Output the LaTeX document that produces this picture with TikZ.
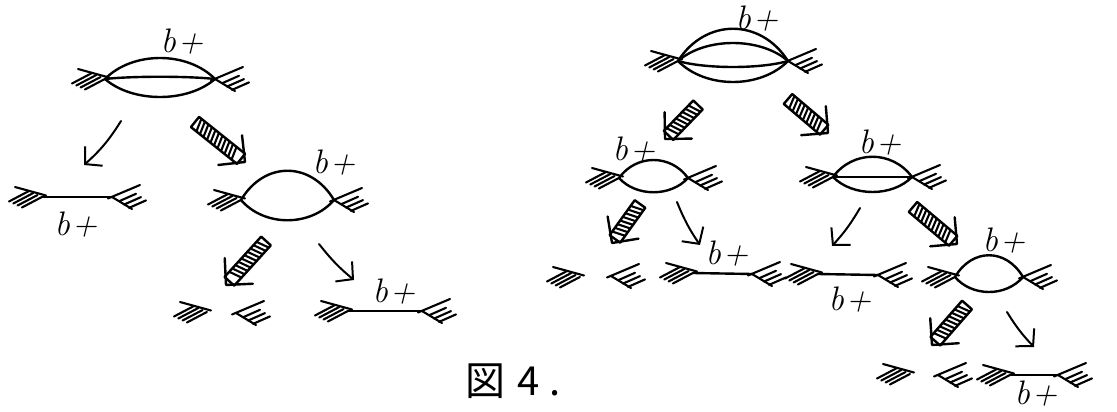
\documentclass[tikz,border=0pt]{standalone}
\usepackage{fontspec}
\newfontfamily\cjk{Noto Sans CJK JP}
\usetikzlibrary{arrows.meta,calc}
\tikzset{
  ink/.style={line width=2.4pt, line cap=round, line join=round},
  hs/.style={line width=2.1pt, line cap=round},
  thinarr/.style={line width=2pt, line cap=round, -{Straight Barb[length=12pt,width=26pt]}},
  lbl/.style={inner sep=0pt, font=\fontsize{34}{34}\selectfont\itshape},
}
% lens arc between two named vertices, #3 = control offset (px, negative = up)
\newcommand\lensarc[3]{\draw[ink] (#1) .. controls ($(#1)!0.25!(#2)+(0,#3)$) and ($(#1)!0.75!(#2)+(0,#3)$) .. (#2);}
% hatched external leg, left side (vertex at right)
\newcommand\lh[1]{\begin{scope}[shift={(#1)}]
  \draw[hs] (4,-1.5) -- (-27,-10);
  \foreach \i in {0,1,2,3} \draw[hs] ({-33+4.3*\i},{4.5+2*\i}) -- ({-13+4.3*\i},{-6+2*\i});
\end{scope}}
% hatched external leg, right side (vertex at left)
\newcommand\rh[1]{\begin{scope}[shift={(#1)}]
  \draw[hs] (-4,1.5) -- (28,-12);
  \draw[hs] (0,0) -- (20,12);
  \foreach \i in {1,2,3} \draw[hs] ({2+5*\i},{1+3.3*\i}) -- ++(17,-7.5);
\end{scope}}
% hatched (hollow, striped) arrow between two named coordinates
\newcommand\harrow[2]{%
  \path let \p1=($(#2)-(#1)$) in \pgfextra{\pgfmathsetmacro\tmpA{atan2(\y1,\x1)}\pgfmathsetmacro\tmpL{veclen(\x1,\y1)}\xdef\hang{\tmpA}\xdef\hlen{\tmpL}};
  \begin{scope}[shift={(#1)},rotate=\hang]
    \pgfmathsetmacro\hb{\hlen-5}
    \pgfmathsetmacro\he{\hlen-12}
    \draw[ink] (0,-6.5) -- (\hb,-6.5) -- (\hb,6.5) -- (0,6.5) -- cycle;
    \foreach \u in {3,7.5,...,\he} \draw[hs] (\u,-6.5) -- ({\u+4},6.5);
    \draw[ink] ({\hlen-19},-19) -- (\hlen,0) -- ({\hlen-19},19);
  \end{scope}}
\begin{document}
\begin{tikzpicture}[x=1pt,y=-1pt]
\useasboundingbox (0,0) rectangle (1117,412);

% ================= left tree =================
% A
\coordinate (AL) at (105,79); \coordinate (AR) at (215,79);
\lensarc{AL}{AR}{-28}\lensarc{AL}{AR}{24}\lensarc{AL}{AR}{-3}
\lh{AL}\rh{AR}
\node[lbl] (la) at (182,42) {b\kern2pt+};
\coordinate (a1s) at (121,121); \coordinate (a1e) at (84,165);
\draw[thinarr] (a1s) to[bend left=8] (a1e);
\coordinate (a2s) at (195,122); \coordinate (a2e) at (245,162);
\harrow{a2s}{a2e}

% B1
\coordinate (B1L) at (42,197); \coordinate (B1R) at (112,197);
\draw[ink] (B1L) -- (B1R); \lh{B1L}\rh{B1R}
\node[lbl] (lb1) at (76,225) {b\kern2pt+};

% B2
\coordinate (B2L) at (241,200); \coordinate (B2R) at (334,200);
\lensarc{B2L}{B2R}{-39}\lensarc{B2L}{B2R}{27}
\lh{B2L}\rh{B2R}
\node[lbl] (lb2) at (334,163) {b\kern2pt+};
\coordinate (b2s) at (266,241); \coordinate (b2e) at (226,285);
\harrow{b2s}{b2e}
\coordinate (b3s) at (319,244); \coordinate (b3e) at (354,280);
\draw[thinarr] (b3s) to[bend right=6] (b3e);

% B3 split
\coordinate (S1) at (207,312); \coordinate (S2) at (236,313);
\lh{S1}\rh{S2}

% B4
\coordinate (B4L) at (348,311); \coordinate (B4R) at (422,311);
\draw[ink] (B4L) -- (B4R); \lh{B4L}\rh{B4R}
\node[lbl] (lb4) at (394,292) {b\kern2pt+};

% caption
\node[inner sep=0pt, font=\cjk\fontsize{40}{40}\selectfont] (cap) at (513,381) {図\kern12pt4\kern10pt.};

% ================= right tree =================
% C
\coordinate (CL) at (678,61); \coordinate (CR) at (788,61);
\lensarc{CL}{CR}{-43}\lensarc{CL}{CR}{-24}\lensarc{CL}{CR}{8}\lensarc{CL}{CR}{28}
\lh{CL}\rh{CR}
\node[lbl] (lc) at (757,19) {b\kern2pt+};
\coordinate (c1s) at (698,105); \coordinate (c1e) at (665,139);
\harrow{c1s}{c1e}
\coordinate (c2s) at (788,99); \coordinate (c2e) at (828,133);
\harrow{c2s}{c2e}

% C1
\coordinate (C1L) at (619,178); \coordinate (C1R) at (688,178);
\lensarc{C1L}{C1R}{-24}\lensarc{C1L}{C1R}{19}
\lh{C1L}\rh{C1R}
\node[lbl] (lc1) at (634,150) {b\kern2pt+};
\coordinate (d1s) at (640,204); \coordinate (d1e) at (612,243);
\harrow{d1s}{d1e}
\coordinate (d2s) at (677,202); \coordinate (d2e) at (700,245);
\draw[thinarr] (d2s) to[bend right=6] (d2e);

% C1 children
\coordinate (S3) at (580,277); \coordinate (S4) at (611,276);
\lh{S3}\rh{S4}
\coordinate (C3L) at (693,273); \coordinate (C3R) at (752,274);
\draw[ink] (C3L) -- (C3R); \lh{C3L}\rh{C3R}
\node[lbl] (lc3) at (727,254) {b\kern2pt+};

% C2
\coordinate (C2L) at (833,177); \coordinate (C2R) at (912,177);
\lensarc{C2L}{C2R}{-27}\lensarc{C2L}{C2R}{20}\draw[ink] (C2L) -- (C2R);
\lh{C2L}\rh{C2R}
\node[lbl] (lc2) at (880,143) {b\kern2pt+};
\coordinate (e1s) at (860,208); \coordinate (e1e) at (832,246);
\draw[thinarr] (e1s) to[bend left=6] (e1e);
\coordinate (e2s) at (913,207); \coordinate (e2e) at (957,244);
\harrow{e2s}{e2e}

% C2 children
\coordinate (C4L) at (818,274); \coordinate (C4R) at (878,275);
\draw[ink] (C4L) -- (C4R); \lh{C4L}\rh{C4R}
\node[lbl] (lc4) at (850,300) {b\kern2pt+};

% D
\coordinate (DL) at (955,277); \coordinate (DR) at (1023,277);
\lensarc{DL}{DR}{-29}\lensarc{DL}{DR}{20}
\lh{DL}\rh{DR}
\node[lbl] (ld) at (1004,241) {b\kern2pt+};
\coordinate (f1s) at (967,305); \coordinate (f1e) at (932,345);
\harrow{f1s}{f1e}
\coordinate (f2s) at (1007,312); \coordinate (f2e) at (1034,347);
\draw[thinarr] (f2s) to[bend right=6] (f2e);

% D children
\coordinate (S5) at (910,374); \coordinate (S6) at (938,375);
\lh{S5}\rh{S6}
\coordinate (DLL) at (1010,375); \coordinate (DLR) at (1058,375);
\draw[ink] (DLL) -- (DLR); \lh{DLL}\rh{DLR}
\node[lbl] (ldl) at (1036,394) {b\kern2pt+};
\end{tikzpicture}
\end{document}
